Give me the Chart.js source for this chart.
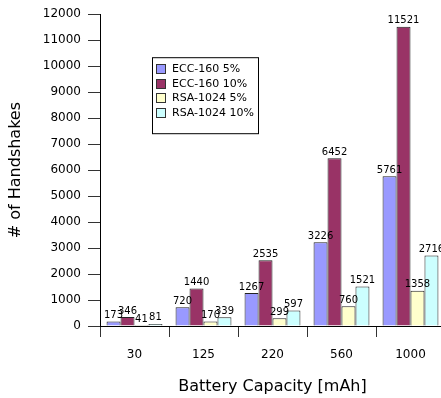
<!DOCTYPE html>
<html>
<head>
<meta charset="utf-8">
<script src="https://cdn.jsdelivr.net/npm/chart.js@4.4.0/dist/chart.umd.min.js"></script>
<style>
  html, body { margin: 0; padding: 0; background: #fff; overflow: hidden; }
  #wrap { width: 448px; height: 398px; }
</style>
</head>
<body>
<div id="wrap"><canvas id="handshakes"></canvas></div>
<script>
// battery capacities (mAh)
let categories = ['30', '125', '220', '560', '1000'];

let ecc5 = [173, 720, 1267, 3226, 5761];
let ecc10 = [346, 1440, 2535, 6452, 11521];
let rsa5 = [41, 170, 299, 760, 1358];
let rsa10 = [81, 339, 597, 1521, 2716];

let yTicks = [0, 1000, 2000, 3000, 4000, 5000, 6000, 7000, 8000, 9000, 10000, 11000, 12000];

Chart.defaults.font.family = "'DejaVu Sans', Verdana, sans-serif";
Chart.defaults.color = '#000';

// value above every bar
let valueLabels = {
  id: 'valueLabels',
  afterDatasetsDraw: function(chart){
    let ctx = chart.ctx;
    ctx.save();
    ctx.font = "10px 'DejaVu Sans'";
    ctx.fillStyle = '#000';
    ctx.textAlign = 'center';
    ctx.textBaseline = 'bottom';
    chart.data.datasets.forEach(function(ds, i){
      chart.getDatasetMeta(i).data.forEach(function(bar, j){
        ctx.fillText(ds.data[j], bar.x, bar.y - 1);
      });
    });
    ctx.restore();
  }
};

// boxed legend inside the plot
let boxLegend = {
  id: 'boxLegend',
  afterDraw: function(chart){
    let ctx = chart.ctx;
    let x = chart.chartArea.left + 52;
    let y = chart.chartArea.top + 43;
    ctx.save();
    ctx.fillStyle = '#fff';
    ctx.strokeStyle = '#000';
    ctx.lineWidth = 1;
    ctx.fillRect(x + 0.5, y + 0.5, 106, 76);
    ctx.strokeRect(x + 0.5, y + 0.5, 106, 76);
    ctx.font = "11px 'DejaVu Sans'";
    ctx.textBaseline = 'middle';
    ctx.textAlign = 'left';
    chart.data.datasets.forEach(function(ds, i){
      let cy = y + 12 + i * 14.6;
      ctx.fillStyle = ds.backgroundColor;
      ctx.fillRect(x + 4.5, Math.round(cy - 5) + 0.5, 9, 9);
      ctx.strokeStyle = '#333';
      ctx.strokeRect(x + 4.5, Math.round(cy - 5) + 0.5, 9, 9);
      ctx.fillStyle = '#000';
      ctx.fillText(ds.label, x + 20, cy);
    });
    ctx.restore();
  }
};

let barData = {
  labels: categories,
  datasets: [
    { label: 'ECC-160 5%', data: ecc5, backgroundColor: '#9999ff' },
    { label: 'ECC-160 10%', data: ecc10, backgroundColor: '#993366' },
    { label: 'RSA-1024 5%', data: rsa5, backgroundColor: '#ffffcc' },
    { label: 'RSA-1024 10%', data: rsa10, backgroundColor: '#ccffff' }
  ].map(function(ds){
    ds.borderColor = '#222';
    ds.borderWidth = 1;
    ds.categoryPercentage = 0.81;
    ds.barPercentage = 1.0;
    return ds;
  })
};

let barOptions = {
  responsive: true,
  maintainAspectRatio: false,
  animation: false,
  layout: { padding: { left: 0, right: 3, top: 13, bottom: 0 } },
  plugins: { legend: { display: false }, tooltip: { enabled: false } },
  scales: {
    x: {
      grid: { offset: true, drawOnChartArea: false, drawTicks: true, tickLength: 11, color: '#333' },
      border: { color: '#000' },
      ticks: { font: { size: 12 }, padding: 11, maxRotation: 0 },
      title: { display: true, text: 'Battery Capacity [mAh]', font: { size: 16 }, padding: { top: 0, bottom: 2 } },
      afterFit: function(scale){ scale.height = 72; }
    },
    y: {
      min: 0,
      max: 12000,
      afterBuildTicks: function(scale){
        scale.ticks = yTicks.map(function(v){ return { value: v }; });
      },
      grid: { drawOnChartArea: false, drawTicks: true, tickLength: 12, color: '#333' },
      border: { color: '#000' },
      ticks: {
        font: { size: 12 },
        padding: 7,
        callback: function(value){ return String(value); }
      },
      title: { display: true, text: '# of Handshakes', font: { size: 16 }, padding: { top: 6, bottom: 0 } },
      afterFit: function(scale){ scale.width = 100; }
    }
  }
};

let ctx = document.getElementById('handshakes').getContext('2d');
new Chart(ctx, { type: 'bar', data: barData, options: barOptions, plugins: [valueLabels, boxLegend] });
</script>
</body>
</html>
